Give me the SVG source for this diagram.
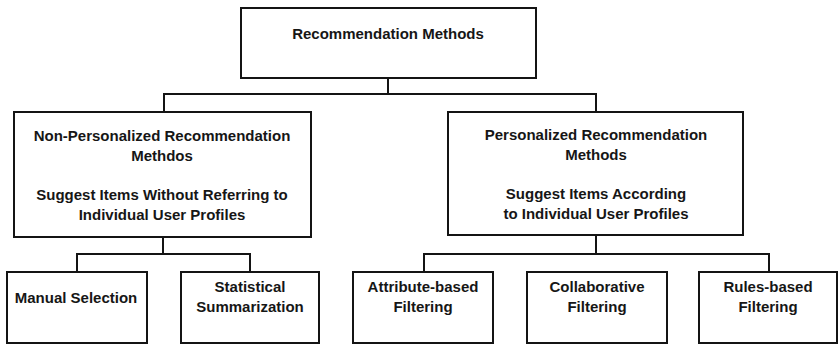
<svg xmlns="http://www.w3.org/2000/svg" width="839" height="345" viewBox="0 0 839 345">
<style>
.box{fill:#fff;stroke:#141414;stroke-width:2}
.con{fill:none;stroke:#141414;stroke-width:2}
text{font-family:"Liberation Sans",Arial,sans-serif;font-weight:bold;font-size:15px;fill:#161616;text-anchor:middle}
</style>
<rect width="839" height="345" fill="#fff"/>
<g id="connectors">
<path class="con" d="M388 78V94M164 112V94H596V112"/>
<path class="con" d="M163 237V254M77 272V254H250V272"/>
<path class="con" d="M596 235V254M424 272V254H769V272"/>
</g>
<g id="root">
<rect class="box" x="241" y="8" width="295" height="70"/>
<text x="388" y="39">Recommendation Methods</text>
</g>
<g id="nonpersonalized">
<rect class="box" x="14" y="112" width="297" height="125"/>
<text x="162" y="141">Non-Personalized Recommendation</text>
<text x="162" y="161">Methdos</text>
<text x="162" y="200">Suggest Items Without Referring to</text>
<text x="162" y="220">Individual User Profiles</text>
</g>
<g id="personalized">
<rect class="box" x="448" y="112" width="295" height="123"/>
<text x="596" y="140">Personalized Recommendation</text>
<text x="596" y="160">Methods</text>
<text x="596" y="199">Suggest Items According</text>
<text x="596" y="219">to Individual User Profiles</text>
</g>
<g id="manual">
<rect class="box" x="7" y="272" width="140" height="71"/>
<text x="76" y="303">Manual Selection</text>
</g>
<g id="statistical">
<rect class="box" x="181" y="272" width="138" height="71"/>
<text x="250" y="292">Statistical</text>
<text x="250" y="312">Summarization</text>
</g>
<g id="attribute">
<rect class="box" x="353" y="272" width="140" height="71"/>
<text x="423" y="292">Attribute-based</text>
<text x="423" y="312">Filtering</text>
</g>
<g id="collaborative">
<rect class="box" x="527" y="272" width="140" height="71"/>
<text x="597" y="292">Collaborative</text>
<text x="597" y="312">Filtering</text>
</g>
<g id="rules">
<rect class="box" x="699" y="272" width="138" height="71"/>
<text x="768" y="292">Rules-based</text>
<text x="768" y="312">Filtering</text>
</g>
</svg>
